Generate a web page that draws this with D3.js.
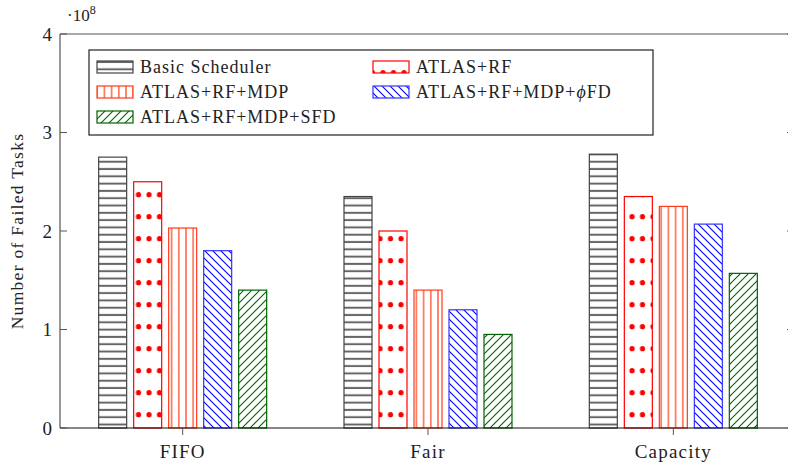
<!DOCTYPE html>
<html>
<head>
<meta charset="utf-8">
<script src="https://cdn.jsdelivr.net/npm/d3@7"></script>
<style>
  body { margin: 0; background: #fff; }
  svg text { font-family: "Liberation Serif", "DejaVu Serif", serif; fill: #222; }
</style>
</head>
<body>
<svg id="chart"></svg>
<script>
var categories = ["FIFO", "Fair", "Capacity"];
var seriesNames = ["Basic Scheduler", "ATLAS+RF", "ATLAS+RF+MDP", "ATLAS+RF+MDP+\u03d5FD", "ATLAS+RF+MDP+SFD"];
var basicVals = [2.75, 2.35, 2.78];
var rfVals    = [2.50, 2.00, 2.35];
var mdpVals   = [2.03, 1.40, 2.25];
var phiVals   = [1.80, 1.20, 2.07];
var sfdVals   = [1.40, 0.95, 1.57];
var yTicks = [0, 1, 2, 3, 4];

var allVals = [basicVals, rfVals, mdpVals, phiVals, sfdVals];

var W = 788, H = 465;
var margin = {top: 34, right: -8, bottom: 37, left: 60};
var width = W - margin.left - margin.right,
    height = H - margin.top - margin.bottom;

var svg = d3.select("#chart").attr("width", W).attr("height", H);

// hatch patterns
var defs = svg.append("defs");
var colors = ["#666", "red", "#ff2a00", "blue", "#006400"];
var outline = ["#444", "red", "#ff3a1a", "#3333ff", "#006400"];

var p0 = defs.append("pattern").attr("id", "pat0").attr("patternUnits", "userSpaceOnUse")
  .attr("width", 10).attr("height", 7.3);
p0.append("line").attr("x1", 0).attr("x2", 10).attr("y1", 3.6).attr("y2", 3.6)
  .attr("stroke", colors[0]).attr("stroke-width", 2);

var p1 = defs.append("pattern").attr("id", "pat1").attr("patternUnits", "userSpaceOnUse")
  .attr("width", 10.5).attr("height", 22).attr("x", 0).attr("y", 0);
p1.append("circle").attr("cx", 5).attr("cy", 6.7).attr("r", 2.6).attr("fill", colors[1]);

var p2 = defs.append("pattern").attr("id", "pat2").attr("patternUnits", "userSpaceOnUse")
  .attr("width", 7.2).attr("height", 10);
p2.append("line").attr("x1", 3.6).attr("x2", 3.6).attr("y1", 0).attr("y2", 10)
  .attr("stroke", colors[2]).attr("stroke-width", 1.1);

var p3 = defs.append("pattern").attr("id", "pat3").attr("patternUnits", "userSpaceOnUse")
  .attr("width", 8).attr("height", 8);
p3.append("path").attr("d", "M-2,-2L10,10M-2,6L2,10M6,-2L10,2")
  .attr("stroke", colors[3]).attr("stroke-width", 1.1);

var p4 = defs.append("pattern").attr("id", "pat4").attr("patternUnits", "userSpaceOnUse")
  .attr("width", 8).attr("height", 8);
p4.append("path").attr("d", "M-2,10L10,-2M-2,2L2,-2M6,10L10,6")
  .attr("stroke", colors[4]).attr("stroke-width", 1.1);

var g = svg.append("g")
  .attr("transform", "translate(" + margin.left + "," + margin.top + ")");

var x0 = d3.scalePoint().domain(categories).range([0, 736]).padding(0.5);
var x1 = d3.scaleBand().domain(d3.range(seriesNames.length)).range([-84, 84]).paddingInner(0.2);
var y = d3.scaleLinear().domain([0, 4]).range([height, 0]);

// bars
allVals.forEach(function (vals, s) {
  g.append("g").selectAll("rect")
    .data(vals)
    .enter()
    .append("rect")
      .attr("x", function (d, i) { return x0(categories[i]) + x1(s); })
      .attr("y", function (d) { return y(d); })
      .attr("width", x1.bandwidth())
      .attr("height", function (d) { return height - y(d); })
      .attr("fill", "url(#pat" + s + ")")
      .attr("stroke", outline[s])
      .attr("stroke-width", 1.2);
});

// axes frame
g.append("line").attr("x1", 0).attr("x2", 0).attr("y1", 0).attr("y2", height)
  .attr("stroke", "#555").attr("stroke-width", 1.2);
g.append("line").attr("x1", 0).attr("x2", width).attr("y1", 0).attr("y2", 0)
  .attr("stroke", "#555").attr("stroke-width", 1.2);
g.append("line").attr("x1", 0).attr("x2", width).attr("y1", height).attr("y2", height)
  .attr("stroke", "#111").attr("stroke-width", 1.2);

// y ticks
var yAxis = g.append("g");
yTicks.forEach(function (t) {
  yAxis.append("line").attr("x1", 0).attr("x2", 7).attr("y1", y(t)).attr("y2", y(t))
    .attr("stroke", "#555").attr("stroke-width", 1);
  yAxis.append("line").attr("x1", 727).attr("x2", 734).attr("y1", y(t)).attr("y2", y(t))
    .attr("stroke", "#555").attr("stroke-width", 1);
  yAxis.append("text").attr("x", -8).attr("y", y(t)).attr("dy", "0.35em")
    .attr("text-anchor", "end").style("font-size", "19px").text(t);
});

// x ticks
categories.forEach(function (c) {
  g.append("line").attr("x1", x0(c)).attr("x2", x0(c)).attr("y1", height).attr("y2", height + 7)
    .attr("stroke", "#555");
  g.append("text").attr("x", x0(c)).attr("y", height + 30)
    .attr("text-anchor", "middle").style("font-size", "19px").style("letter-spacing", "1.2px")
    .text(c);
});

// exponent
var ex = svg.append("text").attr("x", 67).attr("y", 21).style("font-size", "17px");
ex.append("tspan").text("\u00b710");
ex.append("tspan").attr("dy", -7).style("font-size", "12px").text("8");

// y label
svg.append("text")
  .attr("transform", "translate(23," + (margin.top + height / 2) + ") rotate(-90)")
  .attr("text-anchor", "middle").style("font-size", "17.5px").style("letter-spacing", "1.3px")
  .text("Number of Failed Tasks");

// legend
var leg = svg.append("g");
leg.append("rect").attr("x", 89).attr("y", 50).attr("width", 564).attr("height", 85)
  .attr("fill", "#fff").attr("stroke", "#222").attr("stroke-width", 1.2);
var legPos = [[97, 67], [373, 67], [97, 92], [373, 92], [97, 117]];
seriesNames.forEach(function (name, s) {
  var p = legPos[s];
  leg.append("rect").attr("x", p[0]).attr("y", p[1] - 6).attr("width", 36).attr("height", 12)
    .attr("fill", "url(#pat" + s + ")").attr("stroke", outline[s]).attr("stroke-width", 1.2);
  var t = leg.append("text").attr("x", p[0] + 43).attr("y", p[1]).attr("dy", "0.35em")
    .style("font-size", "18px").style("letter-spacing", "1px");
  // italic phi as in the math-mode label
  name.split(/(\u03d5)/).forEach(function (part) {
    if (!part) return;
    var ts = t.append("tspan").text(part);
    if (part === "\u03d5") ts.style("font-style", "italic");
  });
});
</script>
</body>
</html>
